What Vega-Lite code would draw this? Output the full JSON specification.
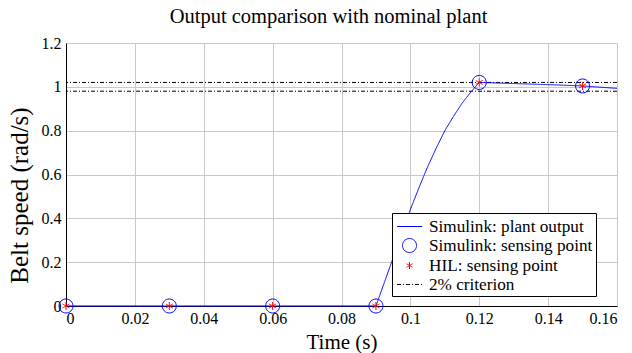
{
  "$schema": "https://vega.github.io/schema/vega-lite/v6.json",
  "width": 551,
  "height": 263,
  "autosize": {"type": "none"},
  "padding": {"left": 66, "top": 43, "right": 15, "bottom": 47},
  "background": "white",
  "title": {
    "text": "Output comparison with nominal plant",
    "font": "Liberation Serif",
    "fontSize": 20.5,
    "fontWeight": "normal",
    "color": "black",
    "baseline": "alphabetic",
    "offset": -8,
    "dx": -13
  },
  "datasets": {
    "criterion": [
      {"y": 1.02, "series": "2% criterion"},
      {"y": 0.98, "series": "2% criterion"}
    ],
    "curve": [
      {"t": 0.0, "v": 0.0, "series": "Simulink: plant output"},
      {"t": 0.09, "v": 0.0, "series": "Simulink: plant output"},
      {"t": 0.0925, "v": 0.11, "series": "Simulink: plant output"},
      {"t": 0.095, "v": 0.22, "series": "Simulink: plant output"},
      {"t": 0.0975, "v": 0.33, "series": "Simulink: plant output"},
      {"t": 0.1, "v": 0.44, "series": "Simulink: plant output"},
      {"t": 0.1025, "v": 0.54, "series": "Simulink: plant output"},
      {"t": 0.105, "v": 0.635, "series": "Simulink: plant output"},
      {"t": 0.1075, "v": 0.72, "series": "Simulink: plant output"},
      {"t": 0.11, "v": 0.8, "series": "Simulink: plant output"},
      {"t": 0.1125, "v": 0.865, "series": "Simulink: plant output"},
      {"t": 0.115, "v": 0.925, "series": "Simulink: plant output"},
      {"t": 0.1175, "v": 0.975, "series": "Simulink: plant output"},
      {"t": 0.12, "v": 1.02, "series": "Simulink: plant output"},
      {"t": 0.13, "v": 1.015, "series": "Simulink: plant output"},
      {"t": 0.14, "v": 1.01, "series": "Simulink: plant output"},
      {"t": 0.15, "v": 1.004, "series": "Simulink: plant output"},
      {"t": 0.16, "v": 0.993, "series": "Simulink: plant output"}
    ],
    "sensing": [
      {"t": 0.0, "v": 0.0, "series": "Simulink: sensing point"},
      {"t": 0.03, "v": 0.0, "series": "Simulink: sensing point"},
      {"t": 0.06, "v": 0.0, "series": "Simulink: sensing point"},
      {"t": 0.09, "v": 0.0, "series": "Simulink: sensing point"},
      {"t": 0.12, "v": 1.02, "series": "Simulink: sensing point"},
      {"t": 0.15, "v": 1.004, "series": "Simulink: sensing point"}
    ],
    "hil": [
      {"t": 0.0, "v": 0.0, "series": "HIL: sensing point"},
      {"t": 0.03, "v": 0.0, "series": "HIL: sensing point"},
      {"t": 0.06, "v": 0.0, "series": "HIL: sensing point"},
      {"t": 0.09, "v": 0.0, "series": "HIL: sensing point"},
      {"t": 0.12, "v": 1.02, "series": "HIL: sensing point"},
      {"t": 0.15, "v": 1.004, "series": "HIL: sensing point"}
    ]
  },
  "layer": [
    {
      "data": {"name": "criterion"},
      "mark": {"type": "rule", "strokeWidth": 1},
      "encoding": {
        "y": {"field": "y", "type": "quantitative"},
        "color": {"field": "series", "type": "nominal"},
        "strokeDash": {"field": "series", "type": "nominal"}
      }
    },
    {
      "data": {"name": "curve"},
      "mark": {"type": "line", "strokeWidth": 1},
      "encoding": {
        "x": {"field": "t", "type": "quantitative"},
        "y": {"field": "v", "type": "quantitative"},
        "color": {"field": "series", "type": "nominal"},
        "strokeDash": {"field": "series", "type": "nominal"}
      }
    },
    {
      "data": {"name": "sensing"},
      "mark": {"type": "point", "filled": false, "strokeWidth": 1, "opacity": 1, "size": 400},
      "encoding": {
        "x": {"field": "t", "type": "quantitative"},
        "y": {"field": "v", "type": "quantitative"},
        "color": {"field": "series", "type": "nominal"},
        "shape": {"field": "series", "type": "nominal"}
      }
    },
    {
      "data": {"name": "hil"},
      "mark": {"type": "point", "filled": false, "strokeWidth": 1, "opacity": 1, "size": 520},
      "encoding": {
        "x": {"field": "t", "type": "quantitative", "scale": {"domain": [0, 0.16], "nice": false, "zero": false},
              "axis": {"title": "Time (s)", "values": [0, 0.02, 0.04, 0.06, 0.08, 0.1, 0.12, 0.14, 0.16], "format": "~g", "labelPadding": 4, "titlePadding": 5, "titleFontSize": 21}},
        "y": {"field": "v", "type": "quantitative", "scale": {"domain": [0, 1.2], "nice": false},
              "axis": {"title": "Belt speed (rad/s)", "values": [0, 0.2, 0.4, 0.6, 0.8, 1, 1.2], "format": "~g", "labelPadding": 5, "titlePadding": 9, "titleFontSize": 25, "titleY": 152}},
        "color": {"field": "series", "type": "nominal",
          "scale": {"domain": ["Simulink: plant output", "Simulink: sensing point", "HIL: sensing point", "2% criterion"],
                    "range": ["#0000ff", "#0000ff", "#ff0000", "#000000"]},
          "legend": {"orient": "none", "legendX": 326, "legendY": 170, "title": null}},
        "shape": {"field": "series", "type": "nominal",
          "scale": {"domain": ["Simulink: plant output", "Simulink: sensing point", "HIL: sensing point", "2% criterion"],
                    "range": ["M-1.25,0H1.25", "M0.7,0A0.7,0.7 0 1,1 -0.7,0A0.7,0.7 0 1,1 0.7,0Z", "M0,-0.35L0,0.35M-0.303,-0.175L0.303,0.175M-0.303,0.175L0.303,-0.175", "M-1.25,0H1.25"]},
          "legend": {"orient": "none", "legendX": 326, "legendY": 170, "title": null}},
        "strokeDash": {"field": "series", "type": "nominal",
          "scale": {"domain": ["Simulink: plant output", "Simulink: sensing point", "HIL: sensing point", "2% criterion"],
                    "range": [[1, 0], [1, 0], [1, 0], [4, 2, 1, 2]]},
          "legend": {"orient": "none", "legendX": 326, "legendY": 170, "title": null}}
      }
    }
  ],
  "config": {
    "view": {"stroke": null},
    "axis": {
      "grid": true,
      "gridColor": "#c8c8c8",
      "gridWidth": 1,
      "ticks": false,
      "domainColor": "black",
      "domainWidth": 1,
      "labelFont": "Liberation Serif",
      "labelFontSize": 16,
      "labelColor": "black",
      "titleFont": "Liberation Serif",
      "titleFontSize": 21,
      "titleFontWeight": "normal",
      "titleColor": "black",
      "zindex": 0
    },
    "legend": {
      "fillColor": "white",
      "strokeColor": "black",
      "padding": 3,
      "labelFont": "Liberation Serif",
      "labelFontSize": 17.2,
      "labelColor": "black",
      "labelLimit": 300,
      "labelOffset": 9,
      "symbolOffset": 4,
      "rowPadding": 0,
      "symbolSize": 400,
      "symbolStrokeWidth": 1,
      "symbolOpacity": 1,
      "cornerRadius": 0
    }
  }
}
